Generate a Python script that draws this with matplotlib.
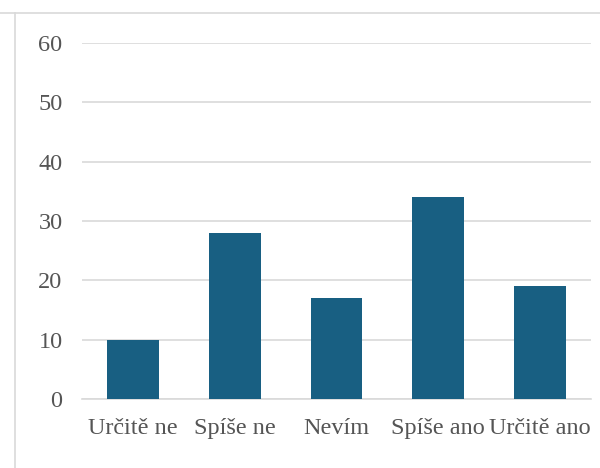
import matplotlib
matplotlib.use("Agg")
import matplotlib.pyplot as plt
from matplotlib.lines import Line2D

categories = ["Určitě ne", "Spíše ne", "Nevím", "Spíše ano", "Určitě ano"]
values = [10, 28, 17, 34, 19]
yticks = [0, 10, 20, 30, 40, 50, 60]

W, H = 600, 468
fig = plt.figure(figsize=(W / 100, H / 100), dpi=100)
plt.rcParams["font.family"] = ["Liberation Serif", "DejaVu Serif"]

ax = fig.add_axes([82 / W, 1 - 399 / H, (591 - 82) / W, (399 - 43) / H])

bar_color = "#185F82"
grid_color = "#D9D9D9"
text_color = "#555555"

x = range(len(categories))
ax.bar(x, values, width=0.51, color=bar_color, zorder=3)

ax.set_xlim(-0.5, len(categories) - 0.5)
ax.set_ylim(0, 60)
ax.set_yticks(yticks)
ax.set_xticks(list(x))
ax.set_xticklabels(categories)

ax.yaxis.grid(True, color=grid_color, linewidth=1.2, zorder=0)
ax.set_axisbelow(True)
for side in ("top", "right", "left"):
    ax.spines[side].set_visible(False)
ax.spines["bottom"].set_color(grid_color)
ax.spines["bottom"].set_linewidth(1.2)

ax.tick_params(axis="y", length=0, pad=14, labelsize=17.5, labelcolor=text_color)
ax.tick_params(axis="x", length=0, pad=14, labelsize=17.5, labelcolor=text_color)

# outer chart-area border (left and top edges)
fig.add_artist(Line2D([15 / W, 15 / W], [0, 1 - 13 / H], transform=fig.transFigure,
                      color=grid_color, linewidth=1.2))
fig.add_artist(Line2D([0, 1], [1 - 13 / H, 1 - 13 / H], transform=fig.transFigure,
                      color=grid_color, linewidth=1.2))

fig.savefig("out.png", dpi=100)
